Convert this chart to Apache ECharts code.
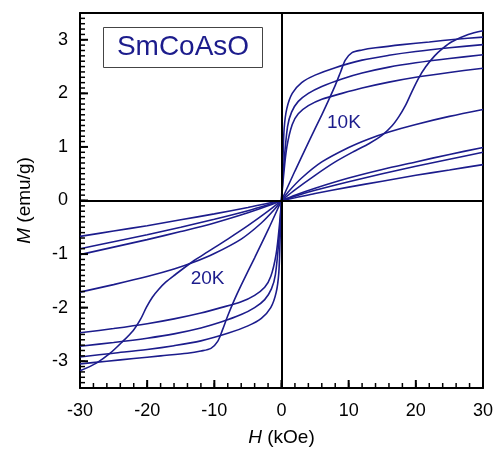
<!DOCTYPE html>
<html lang="en">
<head>
  <meta charset="UTF-8">
  <title>SmCoAsO M-H</title>
  <style>html,body{margin:0;padding:0;background:#fff;}</style>
</head>
<body>
  <div style="width:496px;height:452px" id="echart"></div>
  <script type="text/javascript" src="https://cdn.jsdelivr.net/npm/echarts@6/dist/echarts.min.js"></script>
  <script>
    // [H (kOe), M (emu/g)]
    var curve20K = [[-30,-3.18],[-27.5,-3.03],[-25.6,-2.86],[-23.8,-2.65],[-22.1,-2.43],[-21,-2.22],[-20.1,-1.99],[-19.2,-1.8],[-18.3,-1.66],[-17.2,-1.52],[-16,-1.4],[-13,-1.12],[-11,-0.96],[-8,-0.72],[-5,-0.47],[-2,-0.2],
      [0,0],[2,0.2],[5,0.47],[8,0.72],[11,0.93],[13,1.06],[15,1.22],[16.5,1.4],[17.5,1.57],[18.4,1.76],[19.3,2.0],[20.4,2.28],[21.5,2.5],[22.8,2.7],[24,2.84],[25.3,2.96],[27.8,3.1],[30,3.17]];
    var curve10K = [[-30,-3.05],[-26,-3.0],[-22,-2.95],[-18,-2.9],[-14,-2.85],[-12,-2.81],[-10.5,-2.76],[-9.5,-2.63],[-8.8,-2.42],[-8,-2.15],[-7,-1.85],[-6,-1.58],[-4,-1.07],[-2,-0.55],
      [0,0],[2,0.55],[4,1.08],[6,1.6],[7,1.87],[8,2.15],[8.8,2.4],[9.5,2.62],[10.5,2.76],[12,2.81],[14,2.85],[18,2.91],[22,2.96],[26,3.01],[30,3.05]];
    var curveB = [[-30,-2.92],[-25,-2.85],[-20,-2.78],[-16,-2.71],[-12,-2.62],[-8,-2.48],[-5,-2.34],[-3,-2.2],[-1.6,-2.0],[-0.8,-1.72],[-0.4,-1.35],[-0.2,-0.7],
      [0,0],[0.2,0.7],[0.4,1.35],[0.8,1.72],[1.6,2.0],[3,2.2],[5,2.34],[8,2.48],[12,2.62],[16,2.71],[20,2.78],[25,2.85],[30,2.91]];
    var curveC = [[-30,-2.72],[-25,-2.65],[-20,-2.57],[-16,-2.49],[-12,-2.38],[-9,-2.27],[-6,-2.13],[-4,-2.0],[-2.5,-1.85],[-1.5,-1.65],[-0.9,-1.38],[-0.3,-0.6],
      [0,0],[0.3,0.6],[0.9,1.38],[1.5,1.65],[2.5,1.85],[4,2.0],[6,2.13],[9,2.27],[12,2.38],[16,2.49],[20,2.57],[25,2.65],[30,2.72]];
    var curveD = [[-30,-2.47],[-25,-2.39],[-20,-2.3],[-16,-2.21],[-12,-2.1],[-9,-2.0],[-6,-1.89],[-4,-1.77],[-2.5,-1.62],[-1.6,-1.42],[-0.8,-1.0],[-0.3,-0.45],
      [0,0],[0.3,0.45],[0.8,1.0],[1.6,1.42],[2.5,1.62],[4,1.77],[6,1.89],[9,2.0],[12,2.1],[16,2.21],[20,2.3],[25,2.39],[30,2.47]];
    var curveP = [[-30,-1.71],[-25,-1.57],[-20,-1.42],[-16,-1.28],[-13,-1.15],[-10,-0.99],[-6,-0.72],[-3,-0.42],[-1,-0.16],
      [0,0],[1,0.16],[3,0.42],[6,0.72],[10,0.99],[13,1.15],[16,1.28],[20,1.42],[25,1.57],[30,1.70]];
    var lineL1 = [[-30,-1.01],[-25,-0.87],[-20,-0.73],[-15,-0.58],[-10,-0.42],[-5,-0.23],[-2,-0.1],
      [0,0],[2,0.1],[5,0.23],[10,0.42],[15,0.58],[20,0.72],[25,0.86],[30,0.99]];
    var lineL2 = [[-30,-0.90],[-25,-0.77],[-20,-0.64],[-15,-0.5],[-10,-0.35],[-5,-0.19],[-2,-0.08],
      [0,0],[2,0.08],[5,0.19],[10,0.35],[15,0.5],[20,0.64],[25,0.77],[30,0.90]];
    var lineL3 = [[-30,-0.67],[-25,-0.57],[-20,-0.47],[-15,-0.36],[-10,-0.25],[-5,-0.13],[-2,-0.05],
      [0,0],[2,0.05],[5,0.13],[10,0.25],[15,0.36],[20,0.47],[25,0.57],[30,0.67]];

    var xTicks = [-30, -20, -10, 0, 10, 20, 30];
    var yTicks = [-3, -2, -1, 0, 1, 2, 3];

    var blue = '#1c1c8c';
    var font = 'Liberation Sans, Arial, sans-serif';
    var myChart = echarts.init(document.querySelector('#echart'));

    // minor tick positions: every 2 kOe and every 0.1 emu/g
    var xMinor = [], yMinor = [];
    for (var k = -15; k <= 15; k++) xMinor.push(k * 2);
    for (var j = -35; j <= 35; j++) yMinor.push(j / 10);

    var curves = [curve20K, curve10K, curveB, curveC, curveD, curveP, lineL1, lineL2, lineL3];
    var series = curves.map(function (d, i) {
      var s = {
        type: 'line',
        data: d,
        showSymbol: false,
        smooth: 0.3,
        lineStyle: { color: blue, width: 1.6 },
        silent: true,
        z: 3
      };
      if (i === 0) {
        s.markLine = {
          silent: true,
          symbol: ['none', 'none'],
          label: { show: false },
          lineStyle: { color: '#000', width: 2, type: 'solid' },
          data: [{ xAxis: 0 }, { yAxis: 0 }]
        };
        s.markPoint = {
          symbol: 'circle', symbolSize: 0,
          label: { show: true, position: 'inside', formatter: '20K', color: blue, fontSize: 19, fontFamily: font },
          data: [{ coord: [-11.0, -1.46] }]
        };
      }
      if (i === 1) {
        s.markPoint = {
          symbol: 'circle', symbolSize: 0,
          label: { show: true, position: 'inside', formatter: '10K', color: blue, fontSize: 19, fontFamily: font },
          data: [{ coord: [9.3, 1.45] }]
        };
      }
      return s;
    });

    // inward ticks on the bottom and left frame, placed through the axis scales
    series.push({
      type: 'custom',
      silent: true,
      clip: false,
      z: 10,
      data: [[0, 0]],
      renderItem: function (params, api) {
        var kids = [];
        function xt(v, len, w) {
          var p = api.coord([v, -3.5]);
          kids.push({ type: 'line', shape: { x1: p[0], y1: p[1], x2: p[0], y2: p[1] - len }, style: { stroke: '#000', lineWidth: w } });
        }
        function yt(v, len, w) {
          var p = api.coord([-30, v]);
          kids.push({ type: 'line', shape: { x1: p[0], y1: p[1], x2: p[0] + len, y2: p[1] }, style: { stroke: '#000', lineWidth: w } });
        }
        xMinor.forEach(function (v) { xt(v, 5, 1.5); });
        xTicks.forEach(function (v) { xt(v, 8, 2); });
        yMinor.forEach(function (v) { yt(v, 5, 1.5); });
        yTicks.forEach(function (v) { yt(v, 8, 2); });
        return { type: 'group', children: kids };
      }
    });

    var frame = { show: true, onZero: false, lineStyle: { color: '#000', width: 2 } };

    var option = {
      animation: false,
      grid: { left: 80, right: 11, top: 13, bottom: 64, show: false },
      xAxis: [{
        type: 'value', min: -30, max: 30, interval: 10, position: 'bottom',
        name: '{i|H} (kOe)', nameLocation: 'middle', nameGap: 40,
        nameTextStyle: { fontSize: 19, color: '#000', fontFamily: font, rich: { i: { fontStyle: 'italic', fontSize: 19, fontFamily: font } } },
        axisLine: frame,
        axisTick: { show: false },
        axisLabel: { show: true, fontSize: 18, color: '#000', fontFamily: font, margin: 14 },
        splitLine: { show: false }
      }, {
        type: 'value', min: -30, max: 30, position: 'top',
        axisLine: frame, axisTick: { show: false }, axisLabel: { show: false }, splitLine: { show: false }
      }],
      yAxis: [{
        type: 'value', min: -3.5, max: 3.5, interval: 0.5, position: 'left',
        name: '{i|M} (emu/g)', nameLocation: 'middle', nameGap: 46, nameRotate: 90,
        nameTextStyle: { fontSize: 19, color: '#000', fontFamily: font, rich: { i: { fontStyle: 'italic', fontSize: 19, fontFamily: font } } },
        axisLine: frame,
        axisTick: { show: false },
        axisLabel: { show: true, customValues: yTicks, fontSize: 18, color: '#000', fontFamily: font, margin: 12 },
        splitLine: { show: false }
      }, {
        type: 'value', min: -3.5, max: 3.5, position: 'right',
        axisLine: frame, axisTick: { show: false }, axisLabel: { show: false }, splitLine: { show: false }
      }],
      graphic: [{
        type: 'group', left: 103, top: 27,
        children: [{
          type: 'rect', shape: { x: 0, y: 0, width: 159, height: 40 },
          style: { fill: '#fff', stroke: '#444', lineWidth: 1 }
        }, {
          type: 'text', x: 79.5, y: 20,
          style: { text: 'SmCoAsO', fill: blue, fontSize: 28, fontFamily: font, align: 'center', verticalAlign: 'middle' }
        }]
      }],
      series: series
    };
    myChart.setOption(option);
  </script>
</body>
</html>
